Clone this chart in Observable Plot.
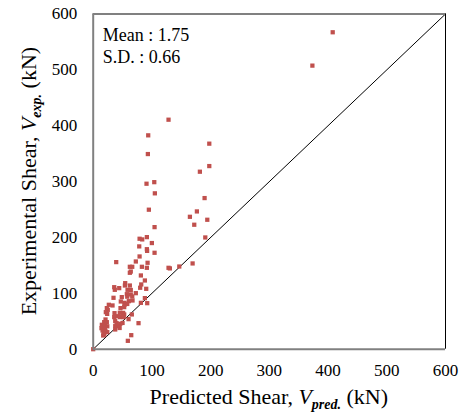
<!DOCTYPE html>
<html>
<head>
<meta charset="utf-8">
<script src="https://cdn.jsdelivr.net/npm/d3@7"></script>
<script src="https://cdn.jsdelivr.net/npm/@observablehq/plot@0.6"></script>
<style>
  html, body { margin: 0; padding: 0; background: #fff; }
</style>
</head>
<body>
<div id="chart"></div>
<script>
// Predicted shear (kN)
const predicted = [
  181.7, 90.8, 104, 105, 189.7, 94.8, 176.6, 164.7, 194.3, 172.1, 104.5, 190.9,
  79, 83.5, 91.4, 99.9, 78.4, 91.4, 91.8, 104.5, 79, 39.2, 72.6, 92.6,
  62.4, 66.5, 82.9, 91.4, 128.3, 130.6, 146.6, 169.3, 62.4, 64, 81.2, 88,
  54.5, 62.4, 81.8, 54, 35.8, 36.8, 44.3, 58.5, 64, 90.3, 80, 72.6,
  57.3, 64, 34.6, 48.7, 58, 66.5, 67, 47, 60.7, 88, 81.2, 92,
  26.6, 32.9, 53.3, 53.7, 52.8, 58, 46.5, 23.2, 24.8, 21.5, 23.8, 36.3,
  45.3, 51, 52.8, 65.8, 35.8, 42, 45.7, 52, 60.2, 21, 18.7, 23.2,
  37.5, 39.8, 46, 50, 14.7, 20, 24, 37.5, 43.7, 14.1, 20, 37.5,
  45, 77.2, 15.9, 21, 17.6, 24, 17, 19, 64.8, 59, 0,
  128.3, 93.7, 197.7, 93.1, 197.7, 407.9, 373.3
];
// Experimental shear (kN)
const experimental = [
  317.7, 296.2, 299, 279, 270.5, 249.7, 246.6, 237, 231.7, 222.8, 218.5, 200,
  197.7, 196.5, 200.6, 190, 184, 179, 176, 172.6, 166, 155.9, 157, 154.7,
  147.5, 147.5, 147.5, 145.7, 145.7, 144.6, 148, 153.5, 136.8, 139, 132, 123,
  118.2, 114, 115.9, 114, 111, 106.3, 109.3, 106.3, 106, 108.1, 110, 100.3,
  98.5, 98, 92, 93.2, 94, 94.4, 87.2, 85.4, 86, 91.4, 83, 82.4,
  79.5, 78.3, 83, 80, 75.3, 81, 73.5, 73.5, 70.5, 66.3, 63.2, 64.5,
  65.1, 65, 62.2, 62.2, 57.4, 59, 57.4, 57.4, 53.8, 53.2, 48.4, 48.4,
  50.2, 46.6, 45.4, 47, 43.7, 42, 41, 41.2, 41.2, 37.6, 36, 35.3,
  38, 46.6, 33.5, 32, 29.4, 30.5, 24.5, 26, 25.1, 15, 0,
  410.8, 382.8, 367.9, 349.3, 327.8, 567.3, 507.6
];
const axisTicks = [0, 100, 200, 300, 400, 500, 600];
const identityLine = [0, 600];
const statMean = "Mean : 1.75";
const statSD = "S.D. : 0.66";

const points = predicted.map((p, i) => ({pred: p, exp: experimental[i]}));
const diag = identityLine.map(v => ({pred: v, exp: v}));

const W = 463, H = 414;
const mL = 92.7, mR = 18, mT = 13.5, mB = 65.3;
const font = "Liberation Serif, DejaVu Serif, serif";

const plot = Plot.plot({
  width: W,
  height: H,
  marginLeft: mL,
  marginRight: mR,
  marginTop: mT,
  marginBottom: mB,
  style: {fontFamily: font, fontSize: "17px", color: "#000", background: "#fff"},
  x: {domain: [0, 600]},
  y: {domain: [0, 600]},
  marks: [
    Plot.axisX({ticks: axisTicks, tickSize: 0, tickPadding: 15, label: null, fontSize: 17, fill: "#000"}),
    Plot.axisY({ticks: axisTicks, tickSize: 0, tickPadding: 16, label: null, fontSize: 17, fill: "#000"}),
    Plot.line(diag, {x: "pred", y: "exp", stroke: "#000", strokeWidth: 1}),
    Plot.dot(points, {x: "pred", y: "exp", symbol: "square", r: 2.4, fill: "#C0504D", stroke: "none"}),
    Plot.ruleX([600], {stroke: "#000", strokeWidth: 1}),
    Plot.ruleX([0], {stroke: "#808080", strokeWidth: 2}),
    Plot.ruleY([0], {stroke: "#808080", strokeWidth: 2}),
    Plot.ruleY([600], {stroke: "#808080", strokeWidth: 2}),
    Plot.text([statMean], {
      text: d => d, frameAnchor: "top-left", textAnchor: "start", lineAnchor: "bottom",
      dx: 9.5, dy: 27, fontSize: 18, fill: "#000"
    }),
    Plot.text([statSD], {
      text: d => d, frameAnchor: "top-left", textAnchor: "start", lineAnchor: "bottom",
      dx: 9.5, dy: 49, fontSize: 18, fill: "#000"
    })
  ]
});

document.getElementById("chart").appendChild(plot);

const svg = d3.select(plot);

const xt = svg.append("text")
  .attr("x", mL + (W - mL - mR) / 2)
  .attr("y", 403.5)
  .attr("text-anchor", "middle")
  .attr("font-family", font)
  .attr("font-size", 22)
  .attr("fill", "#000");
xt.append("tspan").text("Predicted Shear, ");
xt.append("tspan").attr("font-style", "italic").text("V");
xt.append("tspan").attr("font-style", "italic").attr("font-weight", "bold").attr("font-size", 14).attr("dy", 5).text("pred.");
xt.append("tspan").attr("dy", -5).text(" (kN)");

const yt = svg.append("text")
  .attr("transform", `translate(35.5, ${mT + (H - mT - mB) / 2}) rotate(-90)`)
  .attr("text-anchor", "middle")
  .attr("font-family", font)
  .attr("font-size", 22)
  .attr("fill", "#000");
yt.append("tspan").text("Experimental Shear, ");
yt.append("tspan").attr("font-style", "italic").text("V");
yt.append("tspan").attr("font-style", "italic").attr("font-weight", "bold").attr("font-size", 14).attr("dy", 5).text("exp.");
yt.append("tspan").attr("dy", -5).text(" (kN)");
</script>
</body>
</html>
